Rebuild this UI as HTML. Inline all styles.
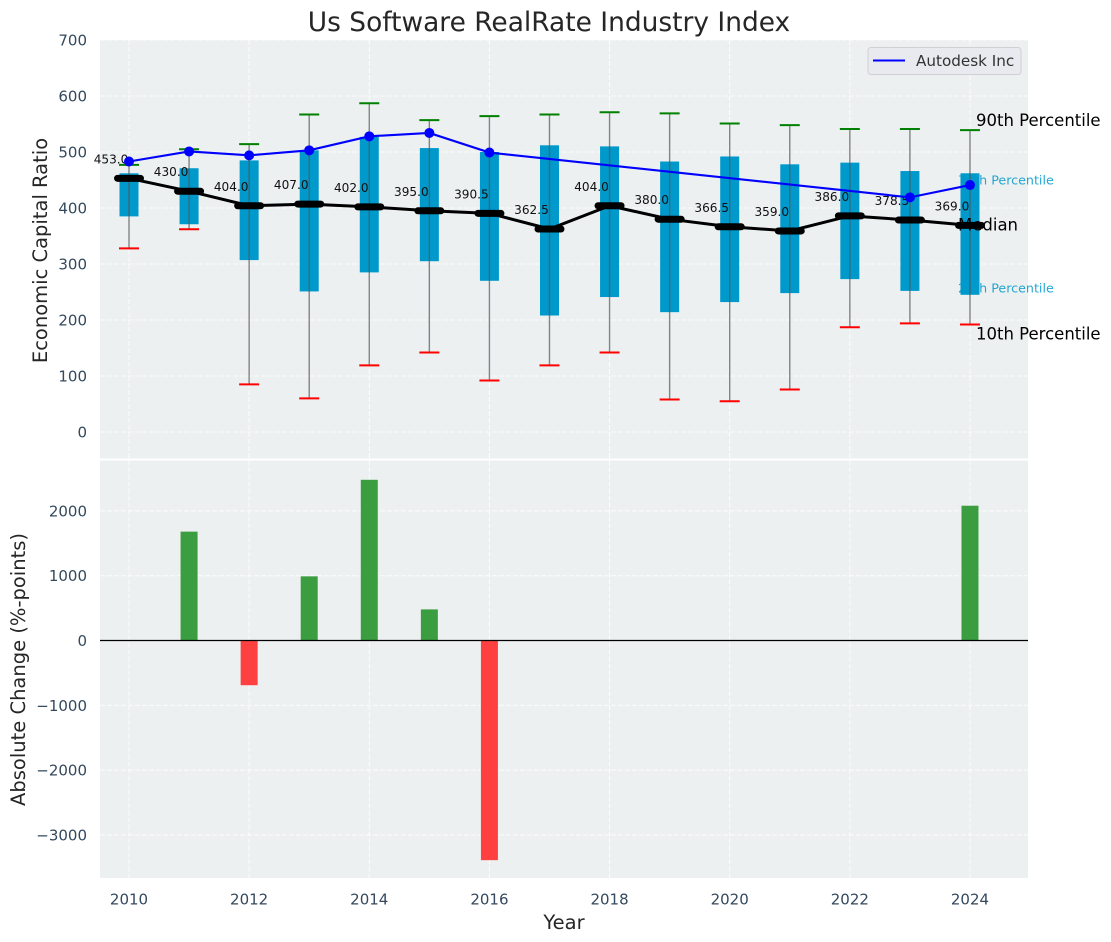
<!DOCTYPE html>
<html>
<head>
<meta charset="utf-8">
<title>Us Software RealRate Industry Index</title>
<style>
html,body{margin:0;padding:0;background:#fff;width:1111px;height:942px;overflow:hidden}
svg{display:block;font-family:"DejaVu Sans","Liberation Sans",sans-serif}
</style>
</head>
<body>
<svg id="chart" xmlns="http://www.w3.org/2000/svg" width="1111" height="942" viewBox="0 0 1111 942">
<text x="549" y="31" text-anchor="middle" font-size="26.45" fill="#262626">Us Software RealRate Industry Index</text>
<rect x="100" y="40" width="928" height="418.5" fill="#ecf0f1"/>
<rect x="100" y="460.5" width="928" height="417.5" fill="#ecf0f1"/>
<g id="grid"></g>
<g id="annot-back"></g>
<g id="boxes"></g>
<g id="whiskers"></g>
<g id="median"></g>
<g id="company"></g>
<g id="annot-front"></g>
<g id="bars"></g>
<g id="ticks"></g>
<text transform="translate(47,250.5) rotate(-90)" text-anchor="middle" font-size="19.5" fill="#262626">Economic Capital Ratio</text>
<text transform="translate(25,669.5) rotate(-90)" text-anchor="middle" font-size="19.5" fill="#262626">Absolute Change (%-points)</text>
<text x="564" y="929" text-anchor="middle" font-size="19.5" fill="#262626">Year</text>
<g>
<rect x="868" y="47.5" width="153" height="27" rx="3" fill="#e9eaf0" stroke="#cfd0d4" stroke-width="1"/>
<line x1="873" y1="60.5" x2="905" y2="60.5" stroke="#0000ff" stroke-width="2"/>
<text x="916" y="66" font-size="15.2" fill="#333">Autodesk Inc</text>
</g>
</svg>
<script>
var years = [2010,2011,2012,2013,2014,2015,2016,2017,2018,2019,2020,2021,2022,2023,2024];
var p90 = [477,505,514,567,587,557,564,567,571,569,551,548,541,541,539];
var p75 = [462,471,485,503,527,507,500,512,510,483,492,478,481,466,462];
var medianValues = [453,430,404,407,402,395,390.5,362.5,404,380,366.5,359,386,378.5,369];
var p25 = [385,371,307,251,285,305,270,208,241,214,232,248,273,252,245];
var p10 = [328,362,85,60,119,142,92,119,142,58,55,76,187,194,192];
var autodesk = [483,501,494,503,528,534,499,null,null,null,null,null,null,419,441];
var changes = [null,1680,-690,990,2480,480,-3390,null,null,null,null,null,null,null,2080];
var xTicks = [2010,2012,2014,2016,2018,2020,2022,2024];
var topTicks = [0,100,200,300,400,500,600,700];
var bottomTicks = [-3000,-2000,-1000,0,1000,2000];

function xPos(v){ return 129 + (v - 2010) * 60.07; }
function yTop(v){ return 432 - v * 0.56; }
function yBottom(v){ return 640.5 - v * 0.0648; }

var NS = 'http://www.w3.org/2000/svg';
function mk(tag, attrs, parentId){
  var el = document.createElementNS(NS, tag);
  for (var k in attrs) el.setAttribute(k, attrs[k]);
  document.getElementById(parentId).appendChild(el);
  return el;
}
var el;

// grid
xTicks.forEach(function(t){
  el = mk('line', {x1:xPos(t), x2:xPos(t), y1:40, y2:458.5, stroke:'#fff', 'stroke-width':1, 'stroke-dasharray':'5 2', opacity:0.85}, 'grid');
  
  
  el = mk('line', {x1:xPos(t), x2:xPos(t), y1:460.5, y2:878, stroke:'#fff', 'stroke-width':1, 'stroke-dasharray':'5 2', opacity:0.85}, 'grid');
  
  
  el = mk('text', {x:xPos(t), y:904.5, 'text-anchor':'middle', 'font-size':15, fill:'#34495e'}, 'ticks');
  el.textContent = t;
  
  
});
topTicks.forEach(function(t){
  el = mk('line', {x1:100, x2:1028, y1:yTop(t), y2:yTop(t), stroke:'#fff', 'stroke-width':1, 'stroke-dasharray':'5 2', opacity:0.85}, 'grid');
  
  
  el = mk('text', {x:87, y:yTop(t)+5.5, 'text-anchor':'end', 'font-size':15, fill:'#34495e'}, 'ticks');
  el.textContent = t;
  
  
});
bottomTicks.forEach(function(t){
  el = mk('line', {x1:100, x2:1028, y1:yBottom(t), y2:yBottom(t), stroke:'#fff', 'stroke-width':1, 'stroke-dasharray':'5 2', opacity:0.85}, 'grid');
  
  
  el = mk('text', {x:87, y:yBottom(t)+5.5, 'text-anchor':'end', 'font-size':15, fill:'#34495e'}, 'ticks');
  el.textContent = String(t).replace('-', '\u2212');
  
  
});

// labels that sit behind the boxes
el = mk('text', {x:958, y:184.5, 'font-size':12.7, fill:'#0099cc', opacity:0.85}, 'annot-back');
el.textContent = '75th Percentile';


el = mk('text', {x:958, y:292.5, 'font-size':12.7, fill:'#0099cc', opacity:0.85}, 'annot-back');
el.textContent = '25th Percentile';



// boxes, whiskers, caps
years.forEach(function(y, i){
  var x = xPos(y);
  el = mk('rect', {x:x-9.5, y:yTop(p75[i]), width:19, height:yTop(p25[i])-yTop(p75[i]), fill:'#0099cc'}, 'boxes');
  
  
  el = mk('line', {x1:x, x2:x, y1:yTop(p90[i]), y2:yTop(p10[i]), stroke:'#555', 'stroke-width':1.4, opacity:0.7}, 'whiskers');
  
  
  el = mk('line', {x1:x-10, x2:x+10, y1:yTop(p90[i]), y2:yTop(p90[i]), stroke:'#008000', 'stroke-width':2}, 'whiskers');
  
  
  el = mk('line', {x1:x-10, x2:x+10, y1:yTop(p10[i]), y2:yTop(p10[i]), stroke:'#ff0000', 'stroke-width':2}, 'whiskers');
  
  
});

// median
el = mk('polyline', {points:years.map(function(y,i){return xPos(y)+','+yTop(medianValues[i]);}).join(' '), fill:'none', stroke:'#000', 'stroke-width':3}, 'median');


years.forEach(function(y, i){
  var x = xPos(y), yy = yTop(medianValues[i]);
  el = mk('line', {x1:x-11.5, x2:x+11.5, y1:yy, y2:yy, stroke:'#000', 'stroke-width':7, 'stroke-linecap':'round'}, 'median');
  
  
  el = mk('text', {x:x-18, y:yy-15, 'text-anchor':'middle', 'font-size':12.1, fill:'#111'}, 'median');
  el.textContent = medianValues[i].toFixed(1);
  
  
});

// line labels
el = mk('text', {x:976, y:126, 'font-size':16.5, fill:'#000'}, 'annot-front');
el.textContent = '90th Percentile';


el = mk('text', {x:958, y:230.5, 'font-size':16.5, fill:'#000'}, 'annot-front');
el.textContent = 'Median';


el = mk('text', {x:976, y:339.5, 'font-size':16.5, fill:'#000'}, 'annot-front');
el.textContent = '10th Percentile';



// company series
var pts = [];
years.forEach(function(y, i){ if (autodesk[i] !== null) pts.push(xPos(y)+','+yTop(autodesk[i])); });
el = mk('polyline', {points:pts.join(' '), fill:'none', stroke:'#0000ff', 'stroke-width':2.1}, 'company');


years.forEach(function(y, i){
  if (autodesk[i] === null) return;
  el = mk('circle', {cx:xPos(y), cy:yTop(autodesk[i]), r:5, fill:'#0000ff'}, 'company');
  
  
});

// change bars
years.forEach(function(y, i){
  var v = changes[i];
  if (v === null) return;
  var y0 = yBottom(Math.max(v, 0)), y1 = yBottom(Math.min(v, 0));
  el = mk('rect', {x:xPos(y)-8.5, y:y0, width:17, height:y1-y0, fill: v >= 0 ? '#3a9e40' : '#ff4040'}, 'bars');
  
  
});
el = mk('line', {x1:100, x2:1028, y1:yBottom(0), y2:yBottom(0), stroke:'#000', 'stroke-width':1.2}, 'bars');


</script>
</body>
</html>
